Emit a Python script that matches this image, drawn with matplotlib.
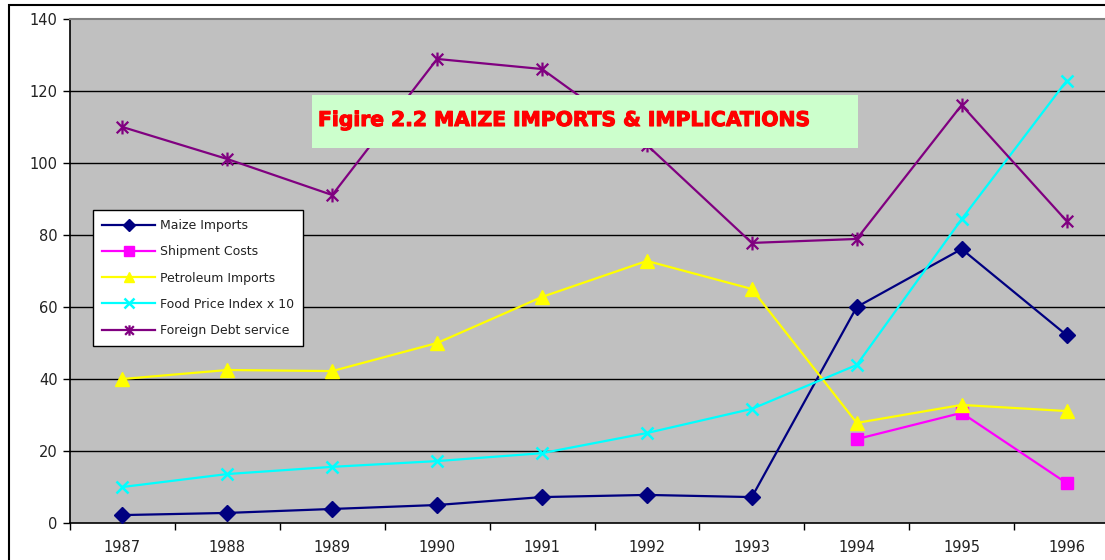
import numpy as np
import matplotlib
matplotlib.use("Agg")
import matplotlib.pyplot as plt
from matplotlib.path import Path
from matplotlib.patches import Rectangle
import matplotlib.patheffects as pe

years = ["1987", "1988", "1989", "1990", "1991", "1992", "1993", "1994", "1995", "1996"]
maize_imports = [2.2, 2.8, 3.9, 5.0, 7.2, 7.8, 7.2, 60.0, 76.1, 52.2]
shipment_costs = [np.nan, np.nan, np.nan, np.nan, np.nan, np.nan, np.nan, 23.3, 30.6, 11.1]
petroleum_imports = [40.0, 42.5, 42.2, 50.0, 62.8, 72.8, 65.0, 27.8, 32.8, 31.1]
food_price_index_x10 = [10.0, 13.6, 15.6, 17.2, 19.4, 25.0, 31.7, 43.9, 84.4, 122.8]
foreign_debt_service = [110.0, 101.1, 91.1, 128.9, 126.1, 105.0, 77.8, 78.9, 116.1, 83.9]
y_ticks = [0, 20, 40, 60, 80, 100, 120, 140]
title_text = "Figire 2.2 MAIZE IMPORTS & IMPLICATIONS"

W, H = 1105, 560
fig = plt.figure(figsize=(W / 100, H / 100), dpi=100)
fig.patch.set_facecolor("white")

# outer chart border (extends beyond the visible image)
fig.add_artist(Rectangle((9 / W, -0.1), 1.2, (H - 5) / H + 0.1, transform=fig.transFigure,
                         fill=False, edgecolor="black", linewidth=1.5))

ax_left, ax_right = 70, 1119
ax_top, ax_bottom = 19, 523
ax = fig.add_axes([ax_left / W, (H - ax_bottom) / H, (ax_right - ax_left) / W, (ax_bottom - ax_top) / H])
ax.set_facecolor("#C0C0C0")

x = np.arange(len(years))

star = Path([(-1, -1), (1, 1), (-1, 1), (1, -1), (0, -1.2), (0, 1.2)],
            [Path.MOVETO, Path.LINETO, Path.MOVETO, Path.LINETO, Path.MOVETO, Path.LINETO])

ax.plot(x, maize_imports, color="#000080", lw=1.6, marker="D", ms=8, mfc="#000080", mec="#000080",
        label="Maize Imports", zorder=5)
ax.plot(x, shipment_costs, color="#FF00FF", lw=1.6, marker="s", ms=9, mfc="#FF00FF", mec="#FF00FF",
        label="Shipment Costs", zorder=5)
ax.plot(x, petroleum_imports, color="#FFFF00", lw=1.6, marker="^", ms=10, mfc="#FFFF00", mec="#FFFF00",
        label="Petroleum Imports", zorder=5)
ax.plot(x, food_price_index_x10, color="#00FFFF", lw=1.6, marker="x", ms=9, mew=1.8, mec="#00FFFF",
        label="Food Price Index x 10", zorder=5)
ax.plot(x, foreign_debt_service, color="#800080", lw=1.6, marker=star, ms=10, mew=1.6, mec="#800080",
        label="Foreign Debt service", zorder=5)

ax.set_xlim(-0.5, len(years) - 0.5)
ax.set_ylim(0, 140)
ax.set_yticks(y_ticks)
ax.set_yticklabels([str(v) for v in y_ticks])
ax.set_xticks(x)
ax.set_xticklabels(years)
ax.set_xticks(np.arange(-0.5, len(years), 1.0), minor=True)
ax.tick_params(axis="x", which="major", length=0, pad=12, labelsize=10.5, labelcolor="#222222")
ax.tick_params(axis="x", which="minor", length=5, width=1, direction="out", color="black")
ax.tick_params(axis="y", length=5, width=1, direction="out", color="black", labelsize=10.5,
               labelcolor="#222222", pad=4)

for v in y_ticks[1:-1]:
    ax.axhline(v, color="black", lw=1.0, zorder=1)

ax.spines["left"].set_color("black")
ax.spines["left"].set_linewidth(1.2)
ax.spines["bottom"].set_color("black")
ax.spines["bottom"].set_linewidth(1.2)
ax.spines["top"].set_color("#808080")
ax.spines["top"].set_linewidth(1.5)
ax.spines["right"].set_visible(False)

leg = ax.legend(loc="upper left", bbox_to_anchor=((93 - ax_left) / (ax_right - ax_left), 1 - (210 - ax_top) / (ax_bottom - ax_top)),
                frameon=True, fancybox=False, edgecolor="black", facecolor="white", framealpha=1,
                fontsize=9, handlelength=4.2, labelspacing=1.05, borderpad=0.75, handletextpad=0.4,
                borderaxespad=0)
leg.get_frame().set_linewidth(1.0)
for t in leg.get_texts():
    t.set_color("#222222")
for h in leg.legend_handles:
    h.set_markersize(h.get_markersize() * 0.75)

# title box
fig.add_artist(Rectangle((312 / W, (H - 148) / H), (858 - 312) / W, (148 - 95) / H,
                         transform=fig.transFigure, facecolor="#CCFFCC", edgecolor="none", zorder=10))
fig.text(318 / W, (H - 120.5) / H, title_text, color="#FF0000", fontsize=14.6, fontweight="bold",
         family="DejaVu Sans", ha="left", va="center", zorder=11,
         path_effects=[pe.withStroke(linewidth=0.8, foreground="#FF0000")])

fig.savefig("out.png", dpi=100)
